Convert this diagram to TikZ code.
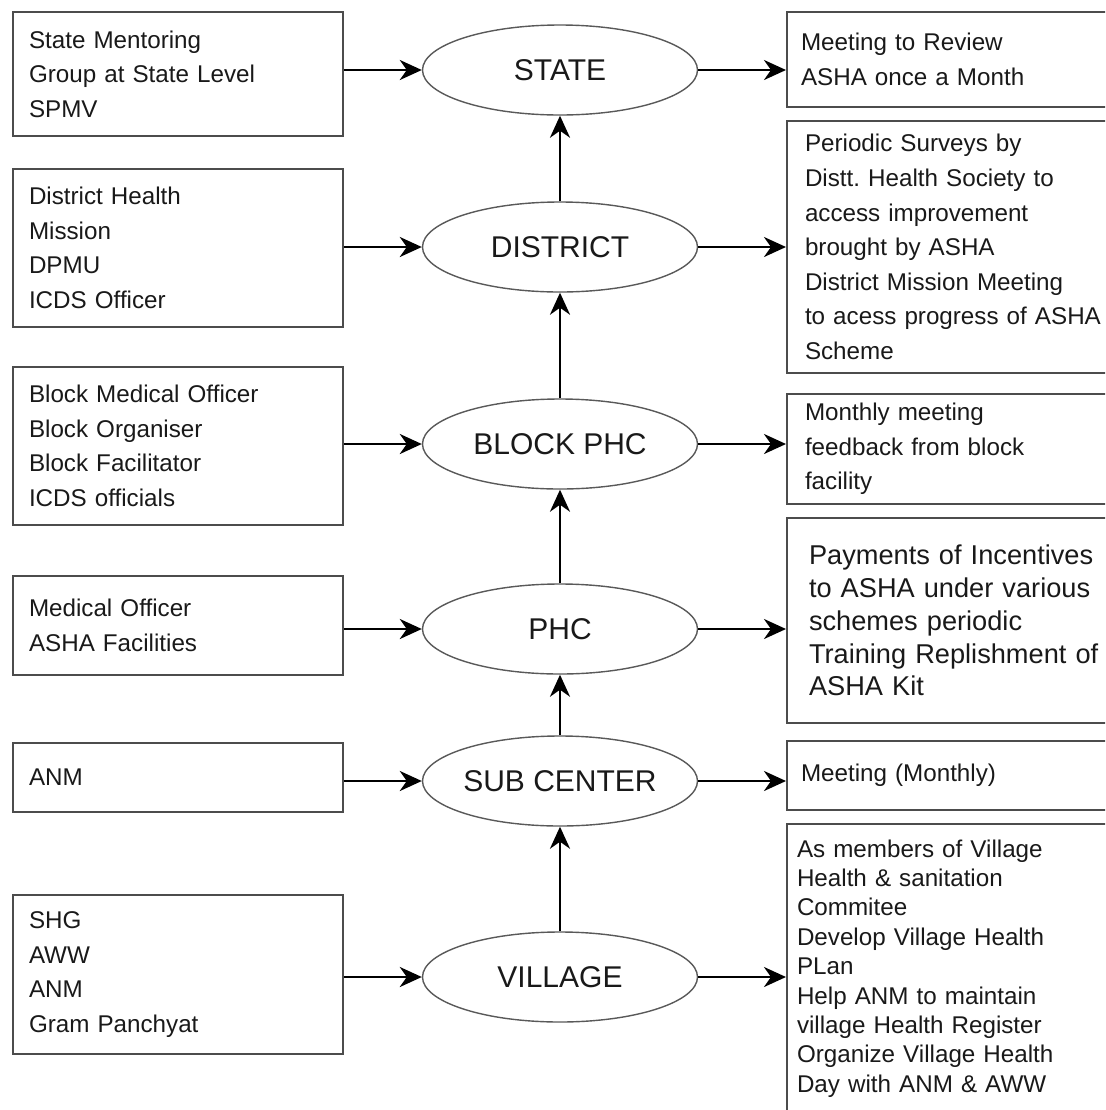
\documentclass[tikz,border=0pt]{standalone}
\usepackage{fontspec}
\setmainfont{Liberation Sans}
\usetikzlibrary{shapes.geometric,arrows.meta}
\begin{document}
\begin{tikzpicture}[x=0.5pt,y=-0.5pt,
  lvl/.style={ellipse,draw=black!65,line width=0.7pt,minimum width=137.5pt,minimum height=45pt,inner sep=0pt,text=black!90,font=\fontsize{15}{18}\selectfont},
  lbox/.style={draw=black!70,line width=1pt,anchor=north west,text width=149pt,inner xsep=8pt,inner ysep=2pt,align=left,text=black!90,font=\fontsize{12.1}{17.3}\selectfont},
  rbox/.style={lbox,text width=157pt,inner xsep=7pt},
  arr/.style={-{Stealth[length=11pt,width=10pt,inset=3.5pt]},line width=1.4pt}]
\useasboundingbox (0,0) rectangle (1105,1110);
\clip (0,0) rectangle (1105,1110);

\node[lvl] (state) at (560,70) {STATE};
\node[lvl] (district) at (560,247) {DISTRICT};
\node[lvl] (block) at (560,444) {BLOCK PHC};
\node[lvl] (phc) at (560,629) {PHC};
\node[lvl] (sub) at (560,781) {SUB CENTER};
\node[lvl] (village) at (560,977) {VILLAGE};

\node[lbox,minimum height=62pt] (stateL) at (12,11) {State Mentoring\\Group at State Level\\SPMV};
\node[lbox,minimum height=79pt] (districtL) at (12,168) {District Health\\Mission\\DPMU\\ICDS Officer};
\node[lbox,minimum height=79pt] (blockL) at (12,366) {Block Medical Officer\\Block Organiser\\Block Facilitator\\ICDS officials};
\node[lbox,minimum height=49.5pt] (phcL) at (12,575) {Medical Officer\\ASHA Facilities};
\node[lbox,minimum height=34.5pt] (subL) at (12,742) {ANM};
\node[lbox,minimum height=79.5pt] (villageL) at (12,894) {SHG\\AWW\\ANM\\Gram Panchyat};

\node[rbox,minimum height=47.7pt] (stateR) at (786,10.6) {Meeting to Review\\ASHA once a Month};
\node[rbox,inner xsep=9pt,minimum height=126pt] (districtR) at (786,120) {Periodic Surveys by\\Distt.\ Health Society to\\access improvement\\brought by ASHA\\District Mission Meeting\\to acess progress of ASHA\\Scheme};
\node[rbox,inner xsep=9pt,minimum height=55pt] (blockR) at (786,393) {Monthly meeting\\feedback from block\\facility};
\node[rbox,inner xsep=11pt,minimum height=102.5pt,font=\fontsize{13.6}{16.4}\selectfont] (phcR) at (786,517) {Payments of Incentives\\to ASHA under various\\schemes periodic\\Training Replishment of\\ASHA Kit};
\node[rbox,minimum height=34.5pt] (subR) at (786,740) {Meeting (Monthly)};
\node[rbox,inner xsep=5pt,minimum height=144.5pt,font=\fontsize{12.1}{14.7}\selectfont] (villageR) at (786,823) {As members of Village\\Health \& sanitation\\Commitee\\Develop Village Health\\PLan\\Help ANM to maintain\\village Health Register\\Organize Village Health\\Day with ANM \& AWW};

\draw[arr] (stateL.east |- state) -- (state);
\draw[arr] (districtL.east |- district) -- (district);
\draw[arr] (blockL.east |- block) -- (block);
\draw[arr] (phcL.east |- phc) -- (phc);
\draw[arr] (subL.east |- sub) -- (sub);
\draw[arr] (villageL.east |- village) -- (village);

\draw[arr] (state) -- (stateR.west |- state);
\draw[arr] (district) -- (districtR.west |- district);
\draw[arr] (block) -- (blockR.west |- block);
\draw[arr] (phc) -- (phcR.west |- phc);
\draw[arr] (sub) -- (subR.west |- sub);
\draw[arr] (village) -- (villageR.west |- village);

\draw[arr] (district) -- (state);
\draw[arr] (block) -- (district);
\draw[arr] (phc) -- (block);
\draw[arr] (sub) -- (phc);
\draw[arr] (village) -- (sub);
\end{tikzpicture}
\end{document}
